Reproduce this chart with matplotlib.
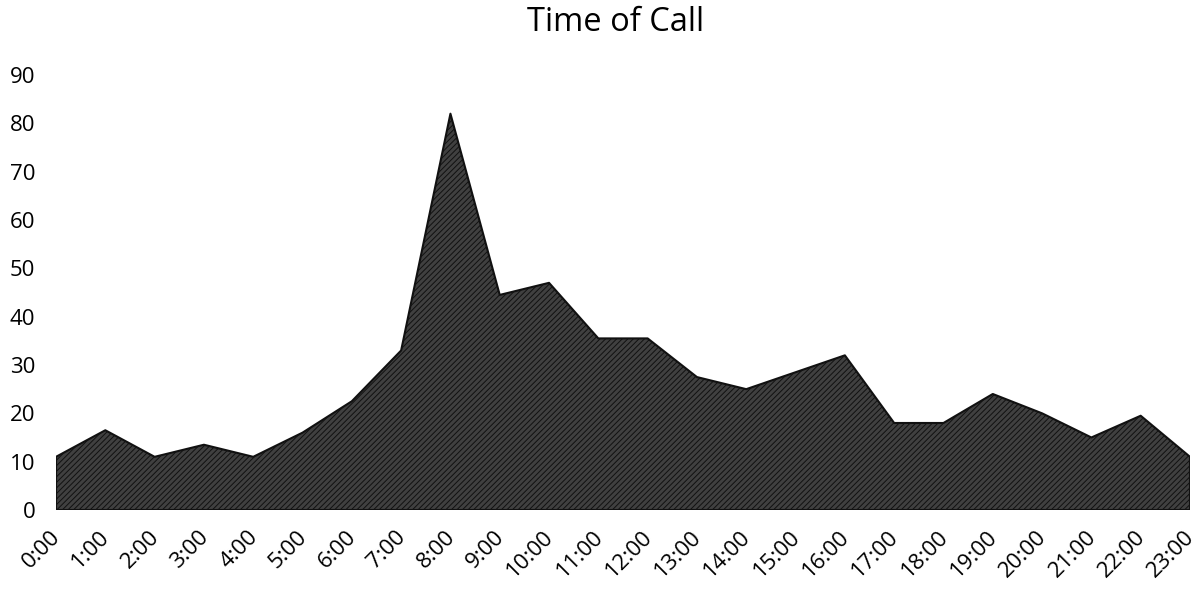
import numpy as np
import matplotlib.pyplot as plt
from matplotlib.transforms import ScaledTranslation

# data
hours = ["0:00", "1:00", "2:00", "3:00", "4:00", "5:00", "6:00", "7:00",
         "8:00", "9:00", "10:00", "11:00", "12:00", "13:00", "14:00", "15:00",
         "16:00", "17:00", "18:00", "19:00", "20:00", "21:00", "22:00", "23:00"]
calls = [11, 16.5, 11, 13.5, 11, 16, 22.5, 33,
         82, 44.5, 47, 35.5, 35.5, 27.5, 25, 28.5,
         32, 18, 18, 24, 20, 15, 19.5, 11]
y_ticks = [0, 10, 20, 30, 40, 50, 60, 70, 80, 90]

plt.rcParams["font.family"] = ["Open Sans", "DejaVu Sans"]
plt.rcParams["hatch.color"] = "#a0a0a0"
plt.rcParams["hatch.linewidth"] = 0.7

fig = plt.figure(figsize=(12.02, 5.93), dpi=100)
ax = fig.add_axes([0.0466, 0.140, 0.9434, 0.7335])

x = np.arange(len(hours))
ax.fill_between(x, 0, calls, facecolor="#404040", edgecolor="#111111",
                hatch="//////", linewidth=1.5)

ax.set_xlim(0, len(hours) - 1)
ax.set_ylim(0, 90)
ax.set_yticks(y_ticks)
ax.set_xticks(x)
ax.set_xticklabels(hours, rotation=45, ha="right", va="top", rotation_mode="anchor")
ax.tick_params(axis="both", length=0, labelsize=16, colors="black")
ax.tick_params(axis="y", pad=15)
ax.tick_params(axis="x", pad=12)

# nudge the rotated labels a little left, like the original
shift = ScaledTranslation(-6 / 100, 0, fig.dpi_scale_trans)
for lab in ax.get_xticklabels():
    lab.set_transform(lab.get_transform() + shift)

for s in ax.spines.values():
    s.set_visible(False)

fig.suptitle("Time of Call", x=0.512, y=0.99, fontsize=23.5, va="top")

fig.savefig("out.png", dpi=100)
